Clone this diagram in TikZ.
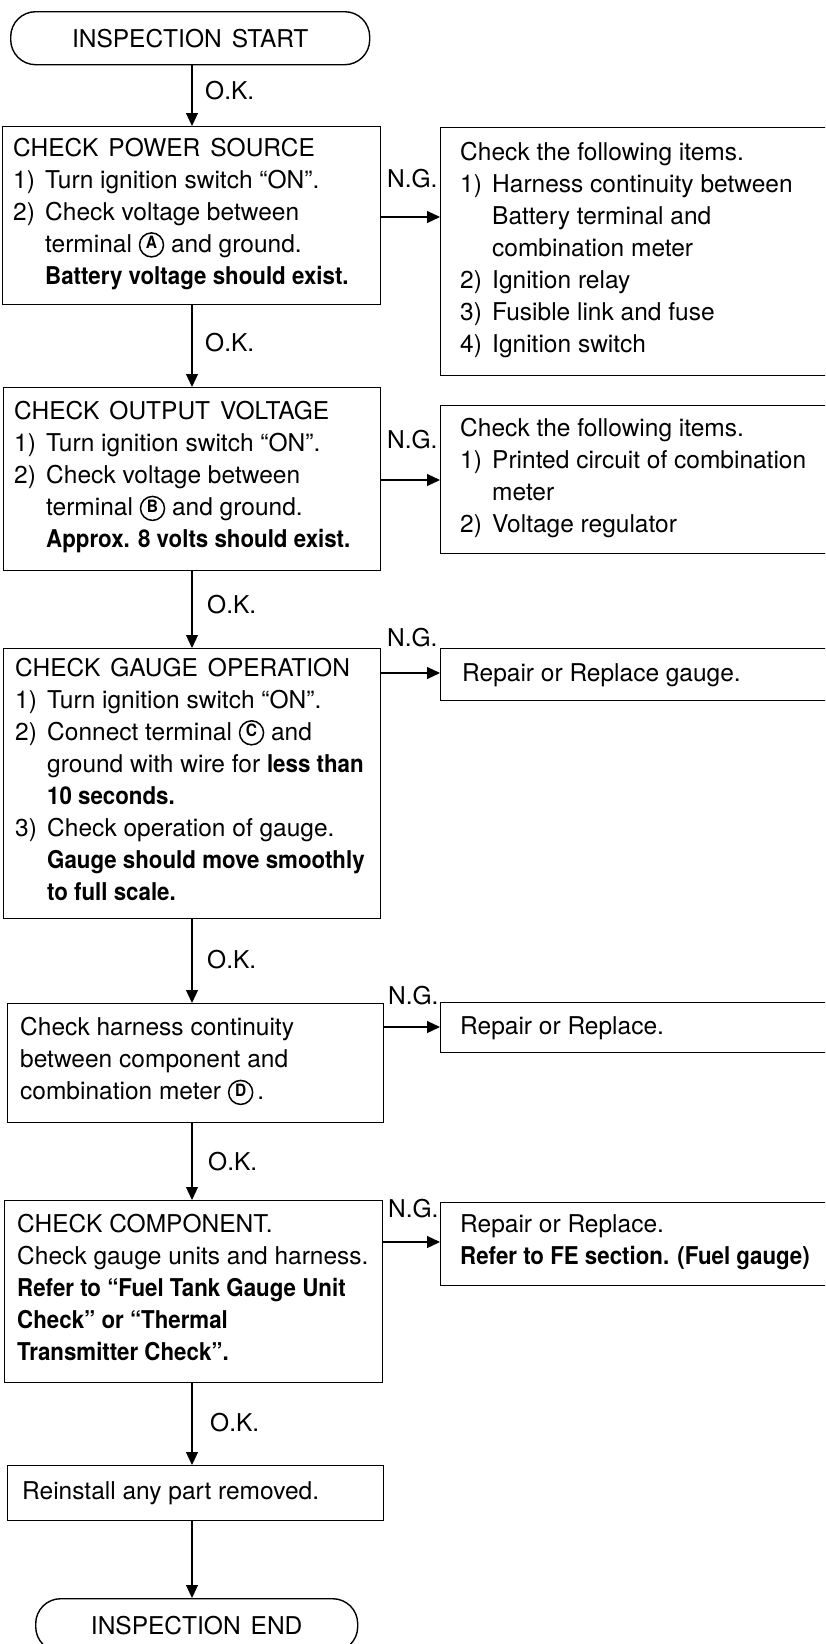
\documentclass[tikz,border=0pt]{standalone}
\usepackage{fontspec}
\setmainfont{TeX Gyre Heros}[BoldFeatures={FakeStretch=0.91}]
\usetikzlibrary{arrows.meta}

\newcommand{\circlet}[1]{\tikz[baseline={([yshift=-3.5pt]cl.base)}]\node[circle,draw,line width=1.5pt,inner sep=0pt,minimum size=24pt,font=\fontsize{17}{17}\selectfont\bfseries](cl){#1};}
\newcommand{\itm}[1]{\makebox[32pt][l]{#1}}
\newcommand{\hind}{\hspace*{32pt}}
\newcommand{\wsp}{\hspace{10pt}}

\begin{document}
\begin{tikzpicture}[x=1pt, y=-1pt,
  frame/.style={draw, line width=1.4pt, inner sep=0pt, anchor=north west},
  term/.style={frame, rounded corners=25pt, font=\fontsize{24.5}{32}\selectfont},
  txt/.style={anchor=west, inner sep=0pt, align=left, font=\fontsize{24.5}{32}\selectfont,
              execute at begin node=\strut, execute at end node=\strut},
  lbl/.style={anchor=west, inner sep=0pt, font=\fontsize{24.5}{32}\selectfont},
  arr/.style={line width=1.2pt, -{Triangle[length=13pt,width=12pt]}}]

\useasboundingbox (0,0) rectangle (825,1644);
\clip (0,0) rectangle (825,1644);

% helper coordinates
\coordinate (ax) at (192,0);
\coordinate (h1) at (0,217);
\coordinate (h2) at (0,480);
\coordinate (h3) at (0,673);
\coordinate (h4) at (0,1027);
\coordinate (h5) at (0,1242);

% terminals
\node[term, minimum width=359pt, minimum height=53pt] (st) at (10,11) {INSPECTION\wsp START};
\node[term, minimum width=322pt, minimum height=53pt] (en) at (35,1598) {INSPECTION\wsp END};

% left boxes
\node[frame, minimum width=378pt, minimum height=178pt] (b1) at (2,126) {};
\node[frame, minimum width=377pt, minimum height=183pt] (b2) at (3,387) {};
\node[frame, minimum width=377pt, minimum height=270pt] (b3) at (3,648) {};
\node[frame, minimum width=376pt, minimum height=119pt] (b4) at (7,1003) {};
\node[frame, minimum width=378pt, minimum height=182pt] (b5) at (4,1200) {};
\node[frame, minimum width=376pt, minimum height=55pt]  (b6) at (7,1465) {};

% right boxes (cut by the right edge)
\node[frame, minimum width=395pt, minimum height=248pt] (r1) at (440,127) {};
\node[frame, minimum width=395pt, minimum height=148pt] (r2) at (440,405) {};
\node[frame, minimum width=395pt, minimum height=52pt]  (r3) at (440,648) {};
\node[frame, minimum width=395pt, minimum height=50pt]  (r4) at (440,1002) {};
\node[frame, minimum width=395pt, minimum height=83pt]  (r5) at (440,1202) {};

% texts of left boxes
\node[txt] (t1) at ([xshift=11pt]b1.west) {CHECK\wsp POWER\wsp SOURCE\\
\itm{1)}Turn ignition switch “ON”.\\
\itm{2)}Check voltage between\\
\hind terminal \circlet{A} and ground.\\
\hind\textbf{Battery voltage should exist.}};

\node[txt] (t2) at ([xshift=11pt]b2.west) {CHECK\wsp OUTPUT\wsp VOLTAGE\\
\itm{1)}Turn ignition switch “ON”.\\
\itm{2)}Check voltage between\\
\hind terminal \circlet{B} and ground.\\
\hind\textbf{Approx. 8 volts should exist.}};

\node[txt] (t3) at ([xshift=12pt]b3.west) {CHECK\wsp GAUGE\wsp OPERATION\\
\itm{1)}Turn ignition switch “ON”.\\
\itm{2)}Connect terminal \circlet{C} and\\
\hind ground with wire for \textbf{less than}\\
\hind\textbf{10 seconds.}\\
\itm{3)}Check operation of gauge.\\
\hind\textbf{Gauge should move smoothly}\\
\hind\textbf{to full scale.}};

\node[txt] (t4) at ([xshift=13pt]b4.west) {Check harness continuity\\
between component and\\
combination meter \circlet{D}\,.};

\node[txt] (t5) at ([xshift=13pt]b5.west) {CHECK COMPONENT.\\
Check gauge units and harness.\\
\textbf{Refer to “Fuel Tank Gauge Unit}\\
\textbf{Check” or “Thermal}\\
\textbf{Transmitter Check”.}};

\node[txt] (t6) at ([xshift=15pt]b6.west) {Reinstall any part removed.};

% texts of right boxes
\node[txt] (s1) at ([xshift=20pt]r1.west) {Check the following items.\\
\itm{1)}Harness continuity between\\
\hind Battery terminal and\\
\hind combination meter\\
\itm{2)}Ignition relay\\
\itm{3)}Fusible link and fuse\\
\itm{4)}Ignition switch};

\node[txt] (s2) at ([xshift=20pt]r2.west) {Check the following items.\\
\itm{1)}Printed circuit of combination\\
\hind meter\\
\itm{2)}Voltage regulator};

\node[txt] (s3) at ([xshift=22pt]r3.west) {Repair or Replace gauge.};
\node[txt] (s4) at ([xshift=20pt]r4.west) {Repair or Replace.};
\node[txt] (s5) at ([xshift=20pt]r5.west) {Repair or Replace.\\
\textbf{Refer to FE section. (Fuel gauge)}};

% vertical connectors
\draw[arr] (st.south -| ax) -- (b1.north -| ax);
\draw[arr] (b1.south -| ax) -- (b2.north -| ax);
\draw[arr] (b2.south -| ax) -- (b3.north -| ax);
\draw[arr] (b3.south -| ax) -- (b4.north -| ax);
\draw[arr] (b4.south -| ax) -- (b5.north -| ax);
\draw[arr] (b5.south -| ax) -- (b6.north -| ax);
\draw[arr] (b6.south -| ax) -- (en.north -| ax);

% horizontal connectors
\draw[arr] (b1.east |- h1) -- (r1.west |- h1);
\draw[arr] (b2.east |- h2) -- (r2.west |- h2);
\draw[arr] (b3.east |- h3) -- (r3.west |- h3);
\draw[arr] (b4.east |- h4) -- (r4.west |- h4);
\draw[arr] (b5.east |- h5) -- (r5.west |- h5);

% labels
\node[lbl] (ok1) at (205,91)   {O.K.};
\node[lbl] (ok2) at (205,343)  {O.K.};
\node[lbl] (ok3) at (207,605)  {O.K.};
\node[lbl] (ok4) at (207,960)  {O.K.};
\node[lbl] (ok5) at (208,1162) {O.K.};
\node[lbl] (ok6) at (210,1423) {O.K.};

\node[lbl] (ng1) at (387,179)  {N.G.};
\node[lbl] (ng2) at (387,440)  {N.G.};
\node[lbl] (ng3) at (387,638)  {N.G.};
\node[lbl] (ng4) at (388,996)  {N.G.};
\node[lbl] (ng5) at (388,1209) {N.G.};
\end{tikzpicture}
\end{document}
